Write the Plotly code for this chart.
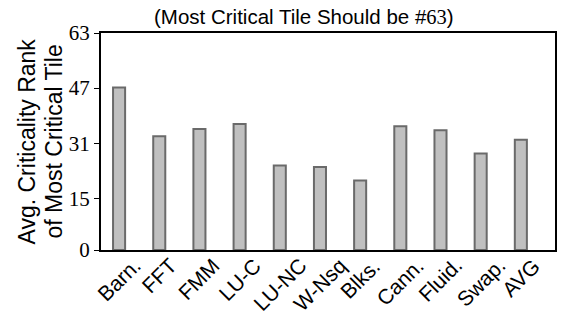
import plotly.graph_objects as go

# Benchmarks and the average criticality rank of the most critical tile
benchmarks = ["Barn.", "FFT", "FMM", "LU-C", "LU-NC", "W-Nsq", "Blks.",
              "Cann.", "Fluid.", "Swap.", "AVG"]
avg_rank = [47.2, 33.0, 35.1, 36.6, 24.5, 24.1, 20.2, 35.9, 34.8, 28.0, 32.0]
y_ticks = [0, 15, 31, 47, 63]
y_title_lines = ["Avg. Criticality Rank", "of Most Critical Tile"]

W, H = 563, 320
L, R, T, B = 101, 6, 33, 70
SANS = "Liberation Sans, Arial, sans-serif"
SERIF = "Liberation Serif, DejaVu Serif, serif"

fig = go.Figure(go.Bar(
    x=list(range(len(benchmarks))),
    y=avg_rank,
    width=0.3,
    marker=dict(color="#c0c0c0", line=dict(color="#6a6a6a", width=2)),
))

fig.update_layout(
    width=W, height=H,
    margin=dict(l=L, r=R, t=T, b=B),
    plot_bgcolor="white", paper_bgcolor="white",
    showlegend=False,
)

fig.update_xaxes(
    range=[-0.45, 10.85],
    showticklabels=False,
    ticks="",
    showline=True, linecolor="black", linewidth=2, mirror=True,
    showgrid=False, zeroline=False,
)

fig.update_yaxes(
    range=[0, 63],
    tickmode="array",
    tickvals=y_ticks,
    ticktext=[str(v) for v in y_ticks],
    ticks="outside", ticklen=5, tickwidth=1, tickcolor="black",
    tickfont=dict(family=SERIF, size=21, color="black"),
    showline=True, linecolor="black", linewidth=2, mirror=True,
    showgrid=False, zeroline=False,
)

# Rotated category labels, each centred under its bar
for i, name in enumerate(benchmarks):
    fig.add_annotation(
        text=name, x=i, xref="x", y=0, yref="paper",
        textangle=-45, xanchor="center", yanchor="top",
        yshift=-1, showarrow=False,
        font=dict(family=SANS, size=21, color="black"),
    )

# Two-line y-axis title
for k, line in enumerate(y_title_lines):
    fig.add_annotation(
        text=line, xref="paper", yref="paper",
        x=0, xshift=-(L - (26 + 27 * k)), y=0.5,
        textangle=-90, xanchor="center", yanchor="middle",
        showarrow=False,
        font=dict(family=SANS, size=23, color="black"),
    )

# Title above the plot area
fig.add_annotation(
    text="(Most Critical Tile Should be #<span style='font-family:Liberation Serif'>63</span>)",
    xref="paper", yref="paper",
    x=(305 - L) / (W - L - R), y=1,
    yshift=3,
    xanchor="center", yanchor="bottom",
    showarrow=False,
    font=dict(family=SANS, size=20.5, color="black"),
)

fig.write_html("out.html")
